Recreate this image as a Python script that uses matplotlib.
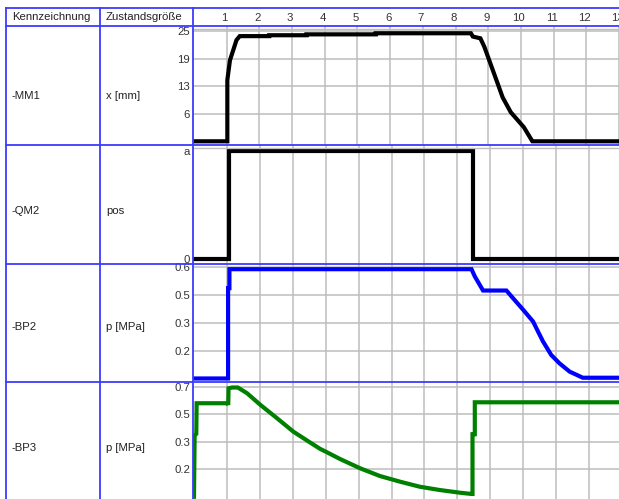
import numpy as np
import matplotlib
matplotlib.use("Agg")
import matplotlib.pyplot as plt
from matplotlib.lines import Line2D
from matplotlib.transforms import ScaledTranslation

plt.rcParams['font.family'] = ['Liberation Sans', 'DejaVu Sans']

# ---- data ----
x_ticks = [1, 2, 3, 4, 5, 6, 7, 8, 9, 10, 11, 12, 13]

row_ids = ['-MM1', '-QM2', '-BP2', '-BP3']
row_quantities = ['x [mm]', 'pos', 'p [MPa]', 'p [MPa]']

mm1_ticks = [6.25, 12.5, 18.75, 25]
mm1_labels = ['6', '13', '19', '25']
mm1_t = [0, 1.02, 1.02, 1.1, 1.3, 1.4, 2.3, 2.3, 3.44, 3.44, 5.56, 5.56, 8.47,
         8.53, 8.76, 8.88, 9.29, 9.44, 9.69, 10.09, 10.35, 12.95]
mm1_x = [0, 0, 13.9, 18.4, 23.0, 23.9, 23.9, 24.1, 24.1, 24.3, 24.3, 24.55, 24.55,
         23.8, 23.4, 21.5, 13.1, 10.0, 6.6, 3.2, 0, 0]

qm2_ticks = [0, 1]
qm2_labels = ['0', 'a']
qm2_t = [0, 1.055, 1.055, 8.47, 8.47, 12.95]
qm2_pos = [0, 0, 1, 1, 0, 0]

bp2_ticks = [0.15, 0.3, 0.45, 0.6]
bp2_labels = ['0.2', '0.3', '0.5', '0.6']
bp2_t = [0, 1.036, 1.036, 1.076, 1.076, 8.43, 8.53, 8.78, 9.49, 9.69, 10.0, 10.3,
         10.45, 10.6, 10.85, 11.1, 11.41, 11.81, 12.95]
bp2_p = [0, 0, 0.487, 0.487, 0.589, 0.589, 0.55, 0.474, 0.474, 0.433, 0.37, 0.307,
         0.253, 0.2, 0.127, 0.082, 0.037, 0.004, 0.004]

bp3_ticks = [0.175, 0.35, 0.525, 0.7]
bp3_labels = ['0.2', '0.3', '0.5', '0.7']
bp3_t = [0, 0.02, 0.07, 0.08, 1.02, 1.04, 1.05, 1.16, 1.33, 1.61, 2.02, 2.52, 3.02,
         3.53, 3.83, 4.04, 4.44, 5.05, 5.65, 6.26, 6.86, 7.47, 8.08, 8.43, 8.46,
         8.46, 8.53, 8.53, 12.95]
bp3_p = [0, 0.39, 0.40, 0.595, 0.595, 0.584, 0.69, 0.695, 0.695, 0.659, 0.584, 0.5,
         0.414, 0.345, 0.305, 0.283, 0.24, 0.181, 0.132, 0.096, 0.064, 0.043, 0.026,
         0.018, 0.018, 0.398, 0.398, 0.601, 0.601]

# ---- layout (pixels) ----
W, H = 619, 499
x_left, x_col2, x_plot = 6, 100, 193
y_top, y_head = 8, 26
row_edges = [26, 145, 264, 382, 499]
row_text_y = [96, 211, 327, 448]
ylims = [(-0.84, 26.2), (-0.046, 1.056), (-0.019, 0.617), (-0.014, 0.730)]
xlim = (-0.03, 12.91)

blue = '#3c3cff'
grid_c = '#bdbdbd'
fs = 8.2

fig = plt.figure(figsize=(W / 100, H / 100), dpi=100)


def px_rect(x0, y0, x1, y1):
    return [x0 / W, 1 - y1 / H, (x1 - x0) / W, (y1 - y0) / H]


def hline(y, x0, x1, **kw):
    fig.add_artist(Line2D([x0 / W, x1 / W], [1 - y / H, 1 - y / H],
                          transform=fig.transFigure, **kw))


def vline(x, y0, y1, **kw):
    fig.add_artist(Line2D([x / W, x / W], [1 - y0 / H, 1 - y1 / H],
                          transform=fig.transFigure, **kw))


series = [(mm1_t, mm1_x, 'black', mm1_ticks, mm1_labels),
          (qm2_t, qm2_pos, 'black', qm2_ticks, qm2_labels),
          (bp2_t, bp2_p, '#0000ff', bp2_ticks, bp2_labels),
          (bp3_t, bp3_p, '#008000', bp3_ticks, bp3_labels)]

axes = []
for i, (t, v, col, ticks, labels) in enumerate(series):
    ax = fig.add_axes(px_rect(x_plot, row_edges[i], W, row_edges[i + 1]))
    ax.set_xlim(*xlim)
    ax.set_ylim(*ylims[i])
    for s in ax.spines.values():
        s.set_visible(False)
    for xv in x_ticks:
        ax.axvline(xv, color=grid_c, lw=1.1, zorder=1)
    if i != 1:
        for yv in ticks:
            ax.axhline(yv, color=grid_c, lw=1.1, zorder=1)
    ax.plot(t, v, color=col, lw=3.0, solid_joinstyle='miter', zorder=3, clip_on=True)
    ax.set_yticks(ticks)
    ax.set_yticklabels(labels, fontsize=fs, color='#333333')
    ax.tick_params(axis='y', length=0, pad=2.0)
    ax.set_xticks([])
    axes.append(ax)

# extra grey border lines just under the row tops
hline(28.5, x_plot, W, color=grid_c, lw=1.0)
hline(148, x_plot, W, color=grid_c, lw=1.0)

# x labels in the header row, a little left of the grid lines
top = axes[0]
top.xaxis.set_ticks_position('top')
top.set_xticks(x_ticks)
top.set_xticklabels([str(v) for v in x_ticks], fontsize=fs, color='#333333')
top.tick_params(axis='x', length=0, pad=2.5)
shift = ScaledTranslation(-2 / 100, 0, fig.dpi_scale_trans)
for lab in top.get_xticklabels():
    lab.set_transform(lab.get_transform() + shift)

# table lines
hline(y_top, x_left, W, color=blue, lw=1.3)
for y in row_edges[:-1]:
    hline(y, x_left, W, color=blue, lw=1.3)
for x in (x_left, x_col2, x_plot):
    vline(x, y_top, H, color=blue, lw=1.3)

# table text
fig.text(12 / W, 1 - 17.5 / H, 'Kennzeichnung', fontsize=fs, va='center', color='#222222')
fig.text(106 / W, 1 - 17.5 / H, 'Zustandsgröße', fontsize=fs, va='center', color='#222222')
for i in range(4):
    fig.text(12 / W, 1 - row_text_y[i] / H, row_ids[i], fontsize=fs, va='center', color='#222222')
    fig.text(106 / W, 1 - row_text_y[i] / H, row_quantities[i], fontsize=fs, va='center', color='#222222')

fig.savefig('out.png', dpi=100)
